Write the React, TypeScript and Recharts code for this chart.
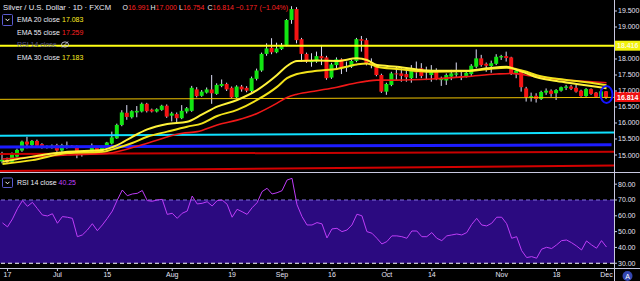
import React from "react";
import {
  ComposedChart,
  Bar,
  Line,
  XAxis,
  YAxis,
  ReferenceLine,
  ReferenceArea,
  ReferenceDot,
} from "recharts";

// ---------- DATA ----------
const START_DATE = "2019-06-14";
const END_DATE = "2019-12-02";

const OPEN = [
  14.8, 14.85, 14.79, 14.95, 15.14, 15.42, 15.31, 15.44, 15.34, 15.27,
  15.23, 15.31, 15.14, 15.26, 15.29, 15.26, 15.0, 15.03, 15.1, 15.23,
  15.1, 15.21, 15.36, 15.52, 15.94, 16.32, 16.18, 16.33, 16.36, 16.6,
  16.42, 16.36, 16.41, 16.54, 16.23, 16.28, 16.15, 16.36, 16.38, 17.05,
  16.85, 16.95, 17.05, 16.91, 17.16, 17.22, 17.1, 16.8, 17.14, 17.1,
  17.0, 17.38, 17.64, 18.16, 18.35, 18.21, 18.31, 18.44, 19.22, 19.56,
  18.62, 18.16, 17.9, 17.92, 18.09, 18.05, 17.42, 17.81, 17.99, 17.73,
  17.76, 17.94, 18.62, 18.59, 17.87, 17.79, 17.5, 16.98, 17.19, 17.55,
  17.55, 17.53, 17.4, 17.63, 17.71, 17.6, 17.5, 17.63, 17.34, 17.33,
  17.45, 17.51, 17.47, 17.47, 17.53, 17.76, 18.02, 17.85, 17.78, 17.85,
  18.05, 18.09, 18.05, 17.55, 17.63, 17.08, 16.79, 16.85, 16.75, 16.95,
  17.01, 16.93, 17.01, 17.1, 17.14, 17.1, 17.01, 16.84, 17.06, 16.95,
  16.82, 16.991,
];
const HIGH = [
  15.1, 14.92, 15.08, 15.2, 15.45, 15.57, 15.47, 15.48, 15.37, 15.3,
  15.33, 15.35, 15.35, 15.42, 15.31, 15.3, 15.13, 15.15, 15.36, 15.28,
  15.29, 15.41, 15.73, 15.98, 16.4, 16.56, 16.4, 16.53, 16.64, 16.63,
  16.45, 16.46, 16.57, 16.58, 16.35, 16.33, 16.56, 16.5, 17.16, 17.12,
  17.03, 17.11, 17.5, 17.24, 17.36, 17.26, 17.14, 17.18, 17.19, 17.15,
  17.45, 17.7, 18.2, 18.49, 18.65, 18.51, 18.5, 19.25, 19.65, 19.62,
  18.66, 18.2, 18.18, 18.23, 18.44, 18.1, 17.88, 18.05, 18.02, 17.92,
  17.98, 18.66, 18.72, 18.65, 18.02, 17.84, 17.54, 17.26, 17.6, 17.76,
  17.71, 17.66, 17.81, 17.92, 17.87, 17.76, 17.81, 17.71, 17.45, 17.55,
  17.66, 17.89, 17.6, 17.62, 17.84, 18.3, 18.13, 17.89, 17.95, 18.15,
  18.13, 18.23, 18.07, 17.66, 17.66, 17.13, 16.95, 16.93, 17.01, 17.08,
  17.05, 17.06, 17.14, 17.19, 17.19, 17.19, 17.04, 17.09, 17.08, 16.97,
  17.05, 17.0,
];
const LOW = [
  14.74, 14.72, 14.76, 14.92, 15.1, 15.21, 15.28, 15.25, 15.2, 15.2,
  15.2, 15.1, 15.1, 15.2, 15.22, 14.9, 14.95, 15.0, 15.08, 15.07,
  15.08, 15.18, 15.33, 15.5, 15.9, 16.1, 16.14, 16.18, 16.33, 16.33,
  16.33, 16.33, 16.38, 16.16, 16.05, 15.99, 16.12, 16.3, 16.35, 16.8,
  16.82, 16.92, 16.6, 16.88, 17.12, 17.0, 16.78, 16.77, 16.98, 16.96,
  16.96, 17.33, 17.6, 18.1, 18.15, 18.18, 18.28, 18.4, 19.1, 18.49,
  17.92, 17.88, 17.76, 17.88, 17.81, 17.35, 17.38, 17.71, 17.53, 17.6,
  17.72, 17.9, 18.23, 17.8, 17.71, 17.46, 16.94, 16.88, 17.15, 17.34,
  17.29, 17.29, 17.26, 17.4, 17.4, 17.34, 17.29, 17.34, 17.16, 17.19,
  17.34, 17.43, 17.34, 17.42, 17.47, 17.71, 17.76, 17.6, 17.57, 17.81,
  17.97, 17.92, 17.5, 17.4, 16.98, 16.67, 16.67, 16.64, 16.72, 16.88,
  16.82, 16.72, 16.98, 17.03, 17.03, 16.95, 16.82, 16.82, 16.88, 16.8,
  16.8, 16.754,
];
const CLOSE = [
  14.85, 14.78, 15.03, 15.16, 15.42, 15.33, 15.44, 15.29, 15.24, 15.25,
  15.29, 15.14, 15.31, 15.3, 15.24, 15.0, 15.1, 15.13, 15.26, 15.1,
  15.26, 15.39, 15.55, 15.94, 16.33, 16.19, 16.37, 16.38, 16.6, 16.37,
  16.36, 16.43, 16.54, 16.2, 16.3, 16.15, 16.38, 16.46, 17.1, 16.84,
  16.98, 17.05, 16.93, 17.19, 17.22, 17.05, 16.8, 17.14, 17.05, 17.01,
  17.4, 17.64, 18.16, 18.33, 18.21, 18.33, 18.44, 19.22, 19.56, 18.59,
  18.16, 17.92, 17.95, 18.09, 18.02, 17.4, 17.83, 17.99, 17.73, 17.78,
  17.94, 18.62, 18.57, 17.84, 17.81, 17.5, 16.98, 17.22, 17.55, 17.52,
  17.47, 17.43, 17.71, 17.58, 17.47, 17.64, 17.66, 17.37, 17.38, 17.5,
  17.55, 17.55, 17.43, 17.57, 17.79, 18.02, 17.81, 17.79, 17.87, 18.07,
  18.09, 18.03, 17.55, 17.64, 17.12, 16.8, 16.84, 16.75, 16.97, 17.01,
  16.91, 17.03, 17.12, 17.14, 17.07, 16.98, 16.84, 17.06, 16.91, 16.82,
  16.991, 16.814,
];
const RSI = [
  55.5, 53, 58, 64.5, 69.6, 66, 68.5, 64.5, 60.5, 59.9,
  61.3, 55.3, 59.5, 59.1, 58.4, 46.8, 47.9, 51, 55, 50.6,
  54.2, 58.4, 63, 70, 76.3, 72.7, 73.8, 74.2, 76, 69.6,
  69.2, 70, 70.4, 60.9, 61.6, 58.4, 61.6, 63, 72.5, 67.5,
  67.9, 68.9, 66.2, 69.6, 70, 67.3, 59.1, 64.1, 62.6, 60.9,
  65.1, 68.3, 75.3, 77.4, 73.8, 74.6, 75.9, 82.6, 83.7, 67,
  59.5, 54.2, 54.2, 55.7, 54.9, 46, 51.7, 52.1, 50, 51,
  54.2, 61, 60, 50, 49, 45.8, 42.2, 43.7, 47.3, 47.3,
  46.8, 45.8, 50.4, 50.4, 46.8, 46.8, 49.4, 45.8, 44.3, 47.3,
  47.9, 48.5, 47.9, 49.4, 54.6, 58.4, 54.2, 53.6, 55.3, 59.1,
  59.1, 55, 45.8, 46.8, 38, 33.6, 34.2, 33.2, 38.9, 40.1,
  39.3, 41.6, 44.3, 44.7, 43, 40.9, 38.4, 44.1, 41.6, 39.5,
  44.3, 40.25,
];

// EMA readings: [bar index, value]
const EMA20_PTS: [number, number][] = [
  [0, 14.79], [6, 14.95], [13, 15.1], [20, 15.16], [23, 15.31], [26, 15.57],
  [29, 15.8], [33, 15.97], [37, 16.04], [40, 16.27], [43, 16.51], [47, 16.72],
  [51, 17.03], [55, 17.5], [57, 17.78], [59, 17.94], [63, 17.95], [67, 17.94],
  [71, 18.02], [73, 17.97], [75, 17.81], [79, 17.76], [86, 17.63], [93, 17.63],
  [97, 17.71], [101, 17.76], [103, 17.66], [105, 17.55], [107, 17.43],
  [111, 17.31], [115, 17.22], [119, 17.13], [121, 17.083],
];
const EMA30_PTS: [number, number][] = [
  [0, 14.72], [6, 14.84], [13, 15.06], [20, 15.1], [23, 15.22], [26, 15.375],
  [29, 15.57], [33, 15.73], [37, 15.885], [40, 15.99], [43, 16.22], [47, 16.41],
  [51, 16.72], [55, 17.13], [57, 17.4], [59, 17.53], [63, 17.63], [67, 17.69],
  [71, 17.83], [73, 17.86], [75, 17.76], [79, 17.69], [86, 17.6], [93, 17.625],
  [97, 17.68], [101, 17.73], [103, 17.68], [105, 17.6], [107, 17.49],
  [111, 17.38], [115, 17.31], [121, 17.183],
];
const EMA55_PTS: [number, number][] = [
  [0, 14.875], [6, 14.94], [13, 15.0], [21, 15.05], [29, 15.37], [36, 15.68],
  [39, 15.73], [43, 15.94], [47, 16.09], [51, 16.3], [55, 16.62], [57, 16.8],
  [59, 16.9], [63, 17.01], [67, 17.12], [71, 17.26], [73, 17.31], [75, 17.34],
  [79, 17.34], [86, 17.375], [93, 17.45], [99, 17.53], [102, 17.55],
  [106, 17.47], [111, 17.37], [115, 17.32], [121, 17.259],
];

// drawn levels (price values)
const RESISTANCE = 18.416;
const SUPPORT_START = 16.74;
const SUPPORT_END = 16.8;
const CYAN_START = 15.6;
const CYAN_END = 15.7;
const BLUE_START = 15.25;
const BLUE_END = 15.32;
const DRED_START = 15.03;
const DRED_END = 15.1;
const LRED_START = 14.5;
const LRED_END = 14.67;
const MARK_PRICE = 16.89;

const PRICE_TICKS = [14.5, 15, 15.5, 16, 16.5, 17, 17.5, 18, 19, 19.5];
const RSI_TICKS = [30, 40, 50, 60, 70, 80];
const TICK_DATES = [
  "2019-06-17", "2019-07-01", "2019-07-15", "2019-08-01", "2019-08-19",
  "2019-09-02", "2019-09-16", "2019-10-01", "2019-10-14", "2019-11-01",
  "2019-11-18", "2019-12-02",
];
const TICK_LABELS = ["17", "Jul", "15", "Aug", "19", "Sep", "16", "Oct", "14", "Nov", "18", "Dec"];

// ---------- helpers ----------
function tradingDays(start: string, end: string): string[] {
  const out: string[] = [];
  let d = new Date(start + "T00:00:00Z");
  const e = new Date(end + "T00:00:00Z");
  while (d.getTime() <= e.getTime()) {
    const wd = d.getUTCDay();
    if (wd !== 0 && wd !== 6) out.push(d.toISOString().slice(0, 10));
    d = new Date(d.getTime() + 86400000);
  }
  return out;
}
const DATES = tradingDays(START_DATE, END_DATE);
const LAST = DATES.length - 1;

const pick = (pts: [number, number][], i: number) => {
  const f = pts.find((p) => p[0] === i);
  return f ? f[1] : null;
};

const rows = DATES.map((date, i) => ({
  i,
  date,
  open: OPEN[i],
  high: HIGH[i],
  low: LOW[i],
  close: CLOSE[i],
  range: [LOW[i], HIGH[i]],
  ema20: pick(EMA20_PTS, i),
  ema30: pick(EMA30_PTS, i),
  ema55: pick(EMA55_PTS, i),
  rsi: RSI[i],
}));

const TICK_IDX = TICK_DATES.map((d) => DATES.indexOf(d));
const tickLabel = (v: number) => {
  const k = TICK_IDX.indexOf(v);
  return k >= 0 ? TICK_LABELS[k] : "";
};

const GREEN = "#12e612";
const RED = "#f51414";
const WICK = "#dcdcf5";
const AXIS_TXT = "#e4e4f4";
const FONT = "'Liberation Sans', Arial, sans-serif";
const X_DOMAIN: [number, number] = [-0.5, LAST + 1.5];

const Candle = (props: any) => {
  const { x, y, width, height, payload } = props;
  if (!payload || typeof payload.open !== "number") return <g />;
  const { open, close, high, low } = payload;
  const top = Math.min(y, y + height);
  const h = Math.abs(height);
  const cx = x + width / 2;
  const span = high - low || 1e-6;
  const toY = (v: number) => top + ((high - v) / span) * h;
  const up = close >= open;
  const bTop = toY(Math.max(open, close));
  const bBot = toY(Math.min(open, close));
  return (
    <g>
      <line x1={cx} x2={cx} y1={top} y2={top + h} stroke={WICK} strokeWidth={1} />
      <rect x={cx - 2} y={bTop} width={4} height={Math.max(1, bBot - bTop)} fill={up ? GREEN : RED} stroke="none" />
    </g>
  );
};

const PriceTag = (text: string, bg: string, fg: string) => (props: any) => {
  const vb = props.viewBox || {};
  const yy = vb.y ?? 0;
  const xx = (vb.x ?? 0) + (vb.width ?? 0);
  return (
    <g>
      <rect x={xx} y={yy - 5} width={26} height={10} fill={bg} />
      <text x={xx + 3} y={yy + 2.6} fontSize={7} fontWeight={700} fill={fg} fontFamily={FONT}>
        {text}
      </text>
    </g>
  );
};

export default function App() {
  const o = OPEN[LAST], h = HIGH[LAST], l = LOW[LAST], c = CLOSE[LAST];
  const chg = c - CLOSE[LAST - 1];
  const pct = (chg / CLOSE[LAST - 1]) * 100;
  const minus = (v: number) => (v < 0 ? "\u2212" + Math.abs(v).toFixed(3) : v.toFixed(3));
  const ema20Last = EMA20_PTS[EMA20_PTS.length - 1][1];
  const ema55Last = EMA55_PTS[EMA55_PTS.length - 1][1];
  const ema30Last = EMA30_PTS[EMA30_PTS.length - 1][1];
  const rsiLast = RSI[LAST];

  return (
    <div
      style={{
        position: "absolute",
        left: 0,
        top: 0,
        width: 640,
        height: 281,
        background: "#000",
        overflow: "hidden",
        fontFamily: FONT,
      }}
    >
      {/* main price pane */}
      <div style={{ position: "absolute", left: 0, top: 0 }}>
        <ComposedChart width={640} height={173} data={rows} margin={{ top: 0, right: 0, bottom: 0, left: 0 }}>
          <XAxis dataKey="i" type="number" domain={X_DOMAIN} hide allowDataOverflow />
          <YAxis
            orientation="right"
            width={26}
            domain={[14.438, 19.844]}
            allowDataOverflow
            ticks={PRICE_TICKS}
            tickFormatter={(v: number) => v.toFixed(3)}
            tick={{ fontSize: 7, fill: AXIS_TXT, fontFamily: FONT }}
            tickSize={3}
            tickMargin={1}
            axisLine={false}
            tickLine={{ stroke: "#c8c8e0" }}
          />
          <ReferenceLine
            segment={[{ x: X_DOMAIN[0], y: LRED_START }, { x: X_DOMAIN[1], y: LRED_END }]}
            stroke="#d40000"
            strokeWidth={2}
          />
          <ReferenceLine
            segment={[{ x: X_DOMAIN[0], y: DRED_START }, { x: X_DOMAIN[1], y: DRED_END }]}
            stroke="#c80000"
            strokeWidth={2}
          />
          <ReferenceLine
            segment={[{ x: X_DOMAIN[0], y: BLUE_START }, { x: LAST + 1, y: BLUE_END }]}
            stroke="#1c1cff"
            strokeWidth={3}
          />
          <ReferenceLine
            segment={[{ x: X_DOMAIN[0], y: CYAN_START }, { x: X_DOMAIN[1], y: CYAN_END }]}
            stroke="#10e0ff"
            strokeWidth={2}
          />
          <ReferenceLine
            segment={[{ x: X_DOMAIN[0], y: SUPPORT_START }, { x: X_DOMAIN[1], y: SUPPORT_END }]}
            stroke="#f0c400"
            strokeWidth={1}
          />
          <Line dataKey="ema55" type="monotone" stroke="#f01818" strokeWidth={1.6} dot={false} activeDot={false} connectNulls isAnimationActive={false} />
          <Line dataKey="ema30" type="monotone" stroke="#f2e21a" strokeWidth={2} dot={false} activeDot={false} connectNulls isAnimationActive={false} />
          <Line dataKey="ema20" type="monotone" stroke="#fff23a" strokeWidth={2} dot={false} activeDot={false} connectNulls isAnimationActive={false} />
          <Bar dataKey="range" barSize={4} shape={Candle} isAnimationActive={false} />
          <ReferenceLine
            y={RESISTANCE}
            stroke="#ffff14"
            strokeWidth={2}
            label={PriceTag(RESISTANCE.toFixed(3), "#f2f20c", "#fbfbd0")}
          />
          <ReferenceLine y={c} stroke="none" label={PriceTag(c.toFixed(3), "#f01010", "#ffffff")} />
          <ReferenceDot
            x={LAST}
            y={MARK_PRICE}
            r={6}
            shape={(p: any) => (
              <ellipse cx={p.cx} cy={p.cy} rx={6} ry={8.5} fill="none" stroke="#1414ff" strokeWidth={2} />
            )}
          />
        </ComposedChart>
      </div>

      {/* RSI pane */}
      <div style={{ position: "absolute", left: 0, top: 173 }}>
        <ComposedChart width={640} height={108} data={rows} margin={{ top: 0, right: 0, bottom: 0, left: 0 }}>
          <XAxis
            dataKey="i"
            type="number"
            domain={X_DOMAIN}
            allowDataOverflow
            ticks={TICK_IDX}
            interval={0}
            tickFormatter={tickLabel}
            height={13}
            tick={{ fontSize: 7, fill: AXIS_TXT, fontFamily: FONT }}
            tickSize={3}
            tickMargin={1}
            axisLine={false}
            tickLine={{ stroke: "#c8c8e0" }}
          />
          <YAxis
            orientation="right"
            width={26}
            domain={[27, 87.06]}
            allowDataOverflow
            ticks={RSI_TICKS}
            tickFormatter={(v: number) => v.toFixed(2)}
            tick={{ fontSize: 7, fill: AXIS_TXT, fontFamily: FONT }}
            tickSize={3}
            tickMargin={1}
            axisLine={false}
            tickLine={{ stroke: "#c8c8e0" }}
          />
          <ReferenceArea y1={30} y2={70} fill="#2b0a80" fillOpacity={1} stroke="none" />
          <ReferenceLine y={70} stroke="#8572e0" strokeDasharray="4 3" strokeWidth={1} />
          <ReferenceLine y={30} stroke="#ffffff" strokeDasharray="4 3" strokeWidth={1} />
          <Line dataKey="rsi" type="linear" stroke="#be3cf8" strokeWidth={1} dot={false} activeDot={false} isAnimationActive={false} />
        </ComposedChart>
      </div>

      {/* frame lines */}
      <div style={{ position: "absolute", left: 0, top: 172, width: 640, height: 1, background: "#c8c8e0" }} />
      <div style={{ position: "absolute", left: 0, top: 268, width: 640, height: 1, background: "#c8c8e0" }} />
      <div style={{ position: "absolute", left: 614, top: 0, width: 1, height: 281, background: "#c8c8e0" }} />

      {/* legends */}
      <svg width={640} height={281} style={{ position: "absolute", left: 0, top: 0, pointerEvents: "none" }}>
        <g fontFamily={FONT} fontSize={7}>
          <text x={3} y={9.6} fill="#ececf6" fontSize={7.7}>Silver / U.S. Dollar · 1D · FXCM</text>
          <text x={122.5} y={9.6} fill="#ececf6">O<tspan fill="#ff2020">{o.toFixed(3)}</tspan></text>
          <text x={150.5} y={9.6} fill="#ececf6">H<tspan fill="#ff2020">{h.toFixed(3)}</tspan></text>
          <text x={179} y={9.6} fill="#ececf6">L<tspan fill="#ff2020">{l.toFixed(3)}</tspan></text>
          <text x={207.5} y={9.6} fill="#ececf6">C<tspan fill="#ff2020">{c.toFixed(3)}</tspan></text>
          <text x={235.5} y={9.6} fill="#ff2020">{minus(chg)}</text>
          <text x={259.5} y={9.6} fill="#ff2020">({pct < 0 ? "\u2212" : ""}{Math.abs(pct).toFixed(2)}%)</text>

          <rect x={2.5} y={14.5} width={10} height={11} rx={1} fill="none" stroke="#5a5ad0" strokeWidth={1} />
          <path d="M5.5 18.8 L7.5 20.8 L9.5 18.8" fill="none" stroke="#ffffff" strokeWidth={1} />
          <text x={17} y={21.8} fill="#ececf6">EMA 20 close</text>
          <text x={62} y={21.8} fill="#ffee20">{ema20Last.toFixed(3)}</text>
          <text x={17} y={34.8} fill="#ececf6">EMA 55 close</text>
          <text x={62} y={34.8} fill="#ff2020">{ema55Last.toFixed(3)}</text>
          <text x={17} y={46.8} fill="#55558c">RSI 14 close</text>
          <ellipse cx={65} cy={44.5} rx={3.5} ry={2.6} fill="none" stroke="#c8c8dc" strokeWidth={0.9} />
          <line x1={62} y1={47.5} x2={68} y2={41.5} stroke="#c8c8dc" strokeWidth={0.9} />
          <text x={17} y={59.8} fill="#ececf6">EMA 30 close</text>
          <text x={62} y={59.8} fill="#ffee20">{ema30Last.toFixed(3)}</text>

          <rect x={2.5} y={178} width={10} height={9.5} rx={1} fill="none" stroke="#5a5ad0" strokeWidth={1} />
          <path d="M5.5 181.8 L7.5 183.8 L9.5 181.8" fill="none" stroke="#ffffff" strokeWidth={1} />
          <text x={17} y={185.3} fill="#ececf6">RSI 14 close</text>
          <text x={58.5} y={185.3} fill="#c040ff">{rsiLast.toFixed(2)}</text>

          <circle cx={627.5} cy={276} r={5} fill="#3346b0" />
          <text x={627.5} y={278.6} fontSize={7} fill="#ffffff" textAnchor="middle">A</text>
        </g>
      </svg>
    </div>
  );
}
